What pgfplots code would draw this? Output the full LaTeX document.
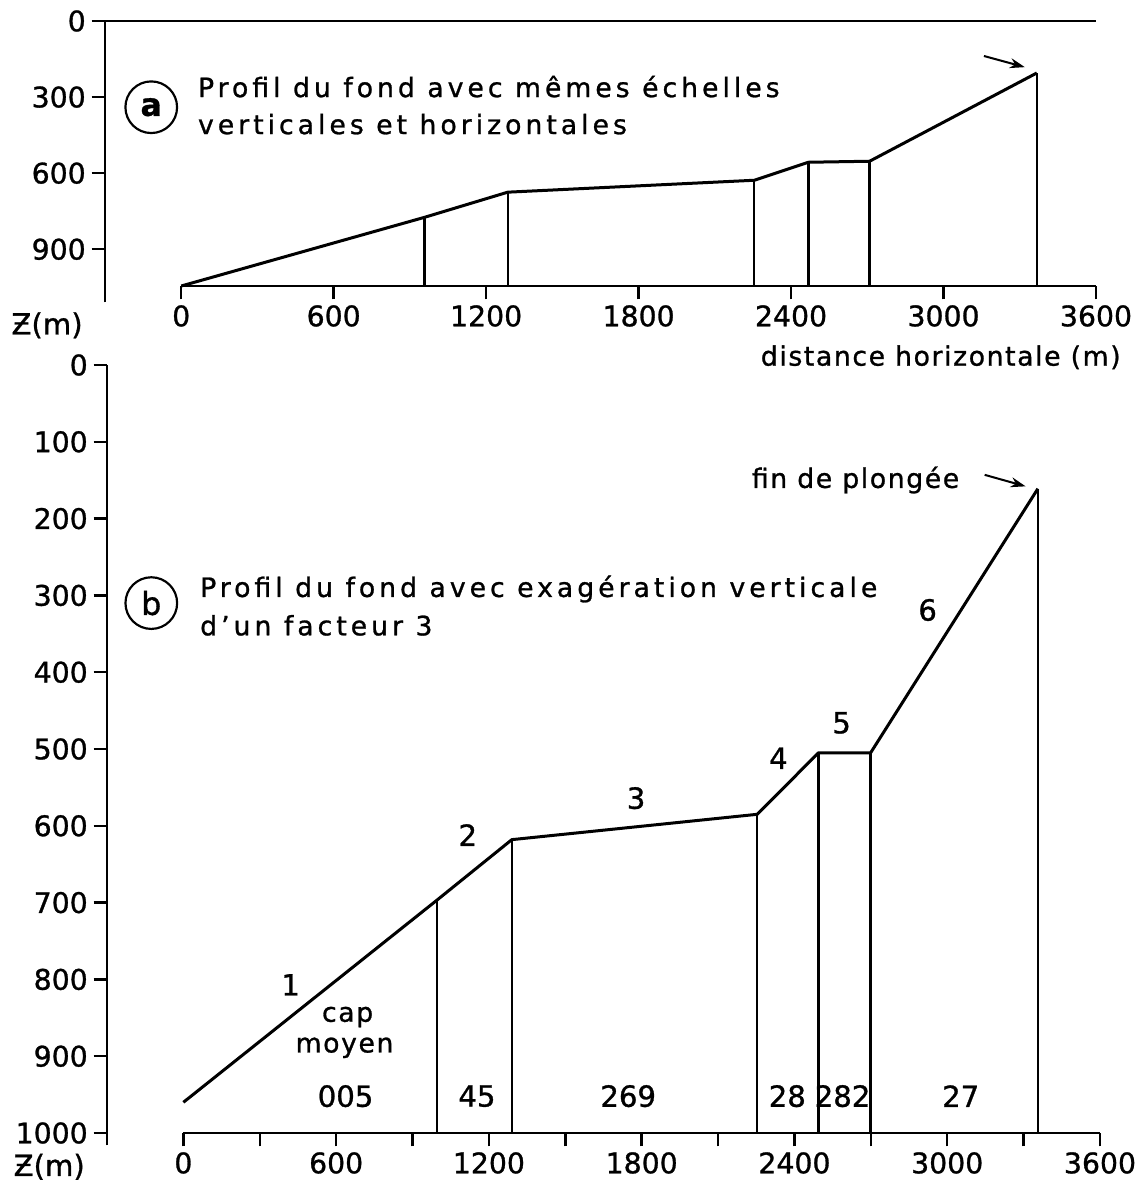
\documentclass[border=0pt]{standalone}
\usepackage{pgfplots}
\pgfplotsset{compat=1.18}
\usepackage{fontspec}
\setmainfont{DejaVu Sans}[FakeBold=1]
\newfontfamily\lettering{DejaVu Sans}[LetterSpace=15, FakeBold=1]
\newfontfamily\letteringb{DejaVu Sans}[LetterSpace=6, FakeBold=1]
\usetikzlibrary{arrows.meta}
\begin{document}
\begin{tikzpicture}
\useasboundingbox (0,0) rectangle (684.6pt,-711.6pt);
\tikzset{
  prof/.style={black, line width=1.8pt, line join=round},
  vert/.style={black, line width=1.4pt},
  axl/.style={black, line width=1.7pt},
  lab/.style={font=\lettering\fontsize{16}{19}\selectfont},
  labs/.style={font=\letteringb\fontsize{16}{19}\selectfont},
  num/.style={font=\fontsize{17.5}{20}\selectfont},
  arr/.style={line width=1.2pt, -{Stealth[length=9pt,width=6pt]}},
}
\pgfplotsset{
  profil/.style={
    scale only axis, xmin=-300, xmax=3600, y dir=reverse,
    axis x line*=bottom, axis y line*=left,
    axis line style={draw=none},
    tick align=outside,
    major tick length=8pt, minor tick length=8pt,
    tick style={black, line width=1.5pt},
    ticklabel style={font=\fontsize{17}{20}\selectfont},
    /pgf/number format/assume math mode=true,
    /pgf/number format/1000 sep={},
    clip=false,
  },
}
% ---------------- panel a
\begin{axis}[profil, at={(63pt,-12.6pt)}, anchor=north west,
  width=594.6pt, height=159pt, ymin=0, ymax=1045,
  xtick={0,600,...,3600}, ytick={0,300,600,900}]
\addplot[prof] coordinates {(0,1045) (958,774) (1285,675) (2255,628) (2468,557) (2709,553) (3367,205)};
\addplot[vert] coordinates {(958,1045) (958,774)};
\addplot[vert] coordinates {(1285,1045) (1285,675)};
\addplot[vert] coordinates {(2255,1045) (2255,628)};
\addplot[vert] coordinates {(2468,1045) (2468,557)};
\addplot[vert] coordinates {(2709,1045) (2709,553)};
\addplot[vert] coordinates {(3367,1045) (3367,205)};
\draw[axl] (axis cs:-300,1110) -- (axis cs:-300,0) -- (axis cs:3600,0);
\draw[axl] (axis cs:0,1045) -- (axis cs:3600,1045);
\node[circle, draw, line width=1.3pt, minimum size=31pt, inner sep=0pt, font=\bfseries\fontsize{19}{19}\selectfont] at (axis cs:-118,340) {a};
\node[lab, anchor=base west] at (axis cs:43,300) {Profil du fond avec mêmes échelles};
\node[lab, anchor=base west] at (axis cs:43,446) {verticales et horizontales};
\draw[arr] (axis cs:3159,138) -- (axis cs:3320,182);
\node[labs] at (axis cs:2989,1326) {distance horizontale (m)};
\node[num] at (axis cs:-528,1200) {Ƶ(m)};
\end{axis}
% ---------------- panel b
\begin{axis}[profil, at={(64.2pt,-219pt)}, anchor=north west,
  width=595.8pt, height=460.8pt, ymin=0, ymax=1000,
  xtick={0,600,...,3600}, minor xtick={300,900,...,3300},
  ytick={0,100,...,1000}]
\addplot[prof] coordinates {(0,960) (995,697) (1290,618) (2254,585) (2494,505) (2699,505) (3356,161)};
\addplot[vert] coordinates {(995,1000) (995,697)};
\addplot[vert] coordinates {(1290,1000) (1290,618)};
\addplot[vert] coordinates {(2254,1000) (2254,585)};
\addplot[vert] coordinates {(2494,1000) (2494,505)};
\addplot[vert] coordinates {(2699,1000) (2699,505)};
\addplot[vert] coordinates {(3356,1000) (3356,161)};
\draw[axl] (axis cs:-300,1016) -- (axis cs:-300,0);
\draw[axl] (axis cs:0,1000) -- (axis cs:3600,1000);
\node[circle, draw, line width=1.3pt, minimum size=31pt, inner sep=0pt, font=\fontsize{19}{19}\selectfont] at (axis cs:-126,310) {b};
\node[lab, anchor=base west] at (axis cs:43,302) {Profil du fond avec exagération verticale};
\node[lab, anchor=base west] at (axis cs:43,352) {d’un facteur 3};
\node[labs, anchor=base] at (axis cs:2640,160) {fin de plongée};
\draw[arr] (axis cs:3147,143) -- (axis cs:3308,158);
\node[num] at (axis cs:421,807) {1};
\node[num] at (axis cs:1117,612) {2};
\node[num] at (axis cs:1778,564) {3};
\node[num] at (axis cs:2337,512) {4};
\node[num] at (axis cs:2585,466) {5};
\node[num] at (axis cs:2923,319) {6};
\node[labs] at (axis cs:645,849) {cap};
\node[labs] at (axis cs:633,889) {moyen};
\node[num] at (axis cs:637,952) {005};
\node[num] at (axis cs:1153,952) {45};
\node[num] at (axis cs:1747,952) {269};
\node[num] at (axis cs:2372,952) {28};
\node[num, inner sep=0pt] at (axis cs:2589,952) {282};
\node[num] at (axis cs:3053,952) {27};
\node[num] at (axis cs:-527,1044) {Ƶ(m)};
\end{axis}
\end{tikzpicture}
\end{document}
